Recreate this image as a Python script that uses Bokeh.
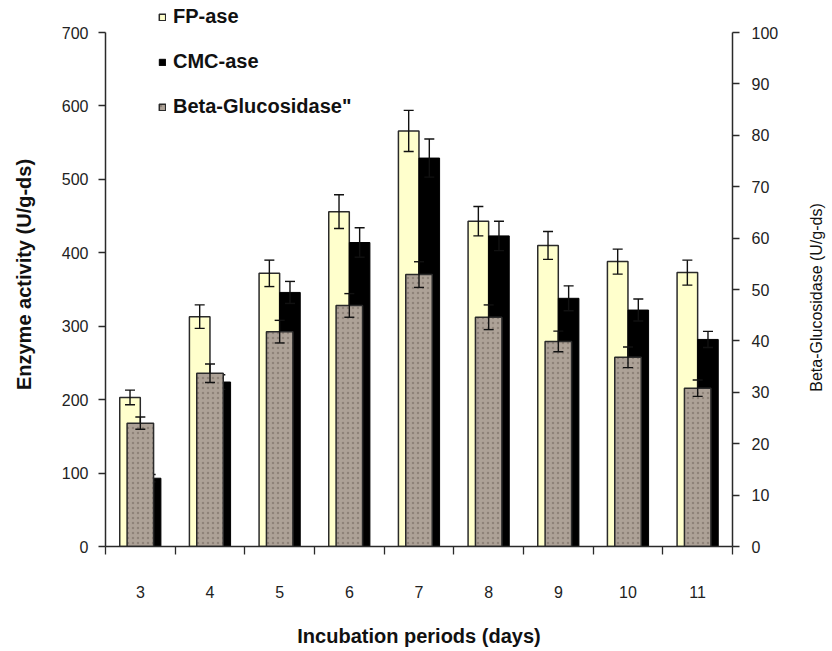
import math
from bokeh.plotting import figure
from bokeh.layouts import row
from bokeh.models import (Range1d, LinearAxis, FixedTicker, ColumnDataSource,
                          Whisker, TeeHead, Legend, LegendItem)
from bokeh.core.properties import value
from bokeh.embed import file_html
from bokeh.resources import INLINE

# ---- data ----
days = ["3", "4", "5", "6", "7", "8", "9", "10", "11"]
fp_ase = [203, 313, 372, 456, 566, 443, 410, 388, 373]
fp_err = [10, 16, 18, 23, 28, 20, 19, 17, 17]
cmc_ase = [93, 224, 346, 414, 529, 423, 338, 322, 282]
cmc_err = [5, 10, 15, 20, 26, 20, 17, 15, 11]
beta_glu = [24.0, 33.7, 41.8, 46.9, 52.9, 44.6, 39.9, 36.8, 30.8]
beta_err = [1.2, 1.8, 2.2, 2.3, 2.5, 2.4, 2.0, 2.0, 1.6]
left_ticks = [0, 100, 200, 300, 400, 500, 600, 700]
right_ticks = [0, 10, 20, 30, 40, 50, 60, 70, 80, 90, 100]
right_title = "Beta-Glucosidase (U/g-ds)"

FONT = "Liberation Sans"
n = len(days)
centers = [i + 0.5 for i in range(n)]
off = 0.148

src_fp = ColumnDataSource(dict(x=[c - off for c in centers], top=fp_ase,
                               upper=[v + e for v, e in zip(fp_ase, fp_err)],
                               lower=[v - e for v, e in zip(fp_ase, fp_err)]))
src_cmc = ColumnDataSource(dict(x=[c + off for c in centers], top=cmc_ase,
                                upper=[v + e for v, e in zip(cmc_ase, cmc_err)],
                                lower=[v - e for v, e in zip(cmc_ase, cmc_err)]))
src_beta = ColumnDataSource(dict(x=centers, top=beta_glu,
                                 upper=[v + e for v, e in zip(beta_glu, beta_err)],
                                 lower=[v - e for v, e in zip(beta_glu, beta_err)]))

W_MAIN = 800
W_SIDE = 832 - W_MAIN
H = 651

# frame extends a little above the axes' top tick so the legend is not clipped;
# axes are bounded to their tick range
TOP = 2
BOTTOM = 546
FRAME_H = BOTTOM - TOP
AXIS_H = 514.0
left_max = left_ticks[-1] * FRAME_H / AXIS_H
right_max = right_ticks[-1] * FRAME_H / AXIS_H

p = figure(width=W_MAIN, height=H, x_range=Range1d(0, n), y_range=Range1d(0, left_max),
           output_backend="svg", toolbar_location=None,
           x_axis_location=None, y_axis_location=None,
           min_border_left=105, min_border_right=W_MAIN - 732,
           min_border_top=TOP, min_border_bottom=H - BOTTOM)
p.outline_line_color = None
p.background_fill_color = "white"
p.border_fill_color = "white"
p.xgrid.visible = False
p.ygrid.visible = False
p.extra_y_ranges = {"beta": Range1d(0, right_max)}

AX = "#2a2a2a"

# x axis: labels at category centres, tick marks at category boundaries
xaxis = LinearAxis(ticker=FixedTicker(ticks=centers, minor_ticks=list(range(n + 1))))
xaxis.major_label_overrides = {c: d for c, d in zip(centers, days)}
xaxis.major_tick_out = 0
xaxis.major_tick_in = 0
xaxis.minor_tick_out = 8
xaxis.minor_tick_in = 0
xaxis.minor_tick_line_color = AX
xaxis.minor_tick_line_width = 1.3
xaxis.axis_line_color = AX
xaxis.axis_line_width = 1.5
xaxis.major_label_standoff = 31
xaxis.major_label_text_font = FONT
xaxis.major_label_text_font_size = "16px"
xaxis.major_label_text_color = "#222222"
xaxis.axis_label = "Incubation periods (days)"
xaxis.axis_label_text_font = FONT
xaxis.axis_label_text_font_style = "bold"
xaxis.axis_label_text_font_size = "20px"
xaxis.axis_label_text_color = "#111111"
xaxis.axis_label_standoff = 24
p.add_layout(xaxis, "below")

yaxis = LinearAxis(ticker=FixedTicker(ticks=left_ticks, minor_ticks=[]),
                   bounds=(left_ticks[0], left_ticks[-1]))
yaxis.major_tick_out = 7
yaxis.major_tick_in = 0
yaxis.major_tick_line_color = AX
yaxis.major_tick_line_width = 1.3
yaxis.axis_line_color = AX
yaxis.axis_line_width = 1.5
yaxis.major_label_standoff = 10
yaxis.major_label_text_font = FONT
yaxis.major_label_text_font_size = "16px"
yaxis.major_label_text_color = "#222222"
yaxis.axis_label = "Enzyme activity (U/g-ds)"
yaxis.axis_label_text_font = FONT
yaxis.axis_label_text_font_style = "bold"
yaxis.axis_label_text_font_size = "20px"
yaxis.axis_label_text_color = "#111111"
yaxis.axis_label_standoff = 24
p.add_layout(yaxis, "left")

raxis = LinearAxis(y_range_name="beta", ticker=FixedTicker(ticks=right_ticks, minor_ticks=[]),
                   bounds=(right_ticks[0], right_ticks[-1]))
raxis.major_tick_out = 7
raxis.major_tick_in = 0
raxis.major_tick_line_color = AX
raxis.major_tick_line_width = 1.3
raxis.axis_line_color = AX
raxis.axis_line_width = 1.5
raxis.major_label_standoff = 12
raxis.major_label_text_font = FONT
raxis.major_label_text_font_size = "16px"
raxis.major_label_text_color = "#222222"
p.add_layout(raxis, "right")

BW = 0.295
r_fp = p.vbar(x="x", top="top", width=BW, bottom=0, source=src_fp,
              fill_color="#FFFFCC", line_color="#2a2a2a", line_width=1.5, level="image")
r_cmc = p.vbar(x="x", top="top", width=BW, bottom=0, source=src_cmc,
               fill_color="#000000", line_color="#000000", line_width=1.0, level="image")

def whisk(src, level, y_range_name="default"):
    w = Whisker(source=src, base="x", upper="upper", lower="lower",
                line_color="#111111", line_width=1.4, level=level,
                y_range_name=y_range_name,
                upper_head=TeeHead(size=10, line_color="#111111", line_width=1.4),
                lower_head=TeeHead(size=10, line_color="#111111", line_width=1.4))
    p.add_layout(w)
    return w

whisk(src_fp, "underlay")
whisk(src_cmc, "underlay")

r_beta = p.vbar(x="x", top="top", width=0.38, bottom=0, source=src_beta,
                y_range_name="beta",
                fill_color="#ADA297", line_color="#2a2a2a", line_width=1.5,
                hatch_pattern=".", hatch_color="#6e635a", hatch_alpha=0.5,
                hatch_scale=5, hatch_weight=1.2, level="glyph")
whisk(src_beta, "annotation", "beta")

legend = Legend(items=[LegendItem(label="FP-ase", renderers=[r_fp]),
                       LegendItem(label="CMC-ase", renderers=[r_cmc]),
                       LegendItem(label="Beta-Glucosidase\"", renderers=[r_beta])],
                location=(53, 428), orientation="vertical",
                padding=0, margin=0, spacing=22,
                glyph_width=8, glyph_height=8, label_standoff=7,
                label_height=22,
                label_text_font=FONT, label_text_font_style="bold",
                label_text_font_size="20px", label_text_color="#111111",
                border_line_color=None, background_fill_alpha=0)
p.add_layout(legend)

# narrow side strip holding the right-hand axis title (reads bottom-to-top).
# Its frame is aligned with the main frame (rows TOP..BOTTOM), so use pixel-like ranges.
p2 = figure(width=W_SIDE, height=H, x_range=Range1d(0, W_SIDE), y_range=Range1d(BOTTOM, TOP),
            output_backend="svg", toolbar_location=None,
            x_axis_location=None, y_axis_location=None,
            min_border=0, min_border_left=0, min_border_right=0,
            min_border_top=TOP, min_border_bottom=H - BOTTOM)
p2.outline_line_color = None
p2.background_fill_color = "white"
p2.border_fill_color = "white"
p2.xgrid.visible = False
p2.ygrid.visible = False
title_src = ColumnDataSource(dict(x=[816 - W_MAIN], y=[297], t=[right_title]))
p2.text(x="x", y="y", text="t", source=title_src, angle=90, angle_units="deg",
        text_align="center", text_baseline="middle",
        text_font=value(FONT), text_font_size="16px", text_color="#111111")

layout = row(p, p2, spacing=0)
open("out.html", "w").write(file_html(layout, INLINE))
